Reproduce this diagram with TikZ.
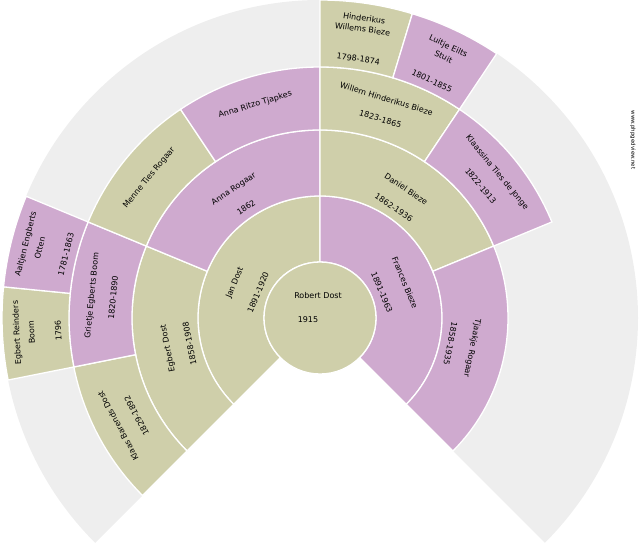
\documentclass[tikz,border=0pt]{standalone}
\usepackage{fontspec}
\setmainfont{DejaVu Sans}
\definecolor{olive}{RGB}{207,207,170}
\definecolor{mauve}{RGB}{207,170,207}
\definecolor{bg}{RGB}{238,238,238}
\newcommand\fancell[5]{\fill[#5,draw=white,line width=1.3pt] (#1:#3) arc[start angle=#1,end angle=#2,radius=#3] -- (#2:#4) arc[start angle=#2,end angle=#1,radius=#4] -- cycle;}
\tikzset{lbl/.style={font=\fontsize{8}{9}\selectfont,inner sep=0pt,text=black}}
\begin{document}
\begin{tikzpicture}[x=1pt,y=1pt]
\useasboundingbox (0,0) rectangle (640,550);
\begin{scope}[shift={(320,232)}]
\fill[bg] (0,0) -- (-45:318) arc[start angle=-45,end angle=225,radius=318] -- cycle;
% gen1
\fancell{90}{225}{56}{122}{olive}
\fancell{-45}{90}{56}{122}{mauve}
% gen2
\fancell{157.5}{225}{122}{188}{olive}
\fancell{90}{157.5}{122}{188}{mauve}
\fancell{22.5}{90}{122}{188}{olive}
\fancell{-45}{22.5}{122}{188}{mauve}
% gen3
\fancell{191.25}{225}{188}{251}{olive}
\fancell{157.5}{191.25}{188}{251}{mauve}
\fancell{123.75}{157.5}{188}{251}{olive}
\fancell{90}{123.75}{188}{251}{mauve}
\fancell{56.25}{90}{188}{251}{olive}
\fancell{22.5}{56.25}{188}{251}{mauve}
% gen4
\fancell{174.375}{191.25}{251}{318}{olive}
\fancell{157.5}{174.375}{251}{318}{mauve}
\fancell{73.125}{90}{251}{318}{olive}
\fancell{56.25}{73.125}{251}{318}{mauve}
% center
\fill[olive,draw=white,line width=1.3pt] (0,0) circle (56);
\node[lbl] (c1) at (-2,22) {Robert Dost};
\node[lbl] (c2) at (-12,-2) {1915};
% gen1 text
\node[lbl,rotate=67.5] (a1) at (157.5:92) {Jan Dost};
\node[lbl,rotate=67.5] (a2) at (157.5:67) {1891-1920};
\node[lbl,rotate=-67.5] (b1) at (22.5:92) {Frances Bieze};
\node[lbl,rotate=-67.5] (b2) at (22.5:67) {1891-1963};
% gen2
\node[lbl,rotate=101.25] (d1) at (191.25:155) {Egbert Dost};
\node[lbl,rotate=101.25] (d2) at (191.25:133) {1858-1908};
\node[lbl,rotate=33.75] (e1) at (123.75:155) {Anna Rogaar};
\node[lbl,rotate=33.75] (e2) at (123.75:133) {1862};
\node[lbl,rotate=-33.75] (f1) at (56.25:155) {Daniel Bieze};
\node[lbl,rotate=-33.75] (f2) at (56.25:133) {1862-1936};
\node[lbl,rotate=-101.25] (g1) at (-11.25:155) {Tjaakje Rogaar};
\node[lbl,rotate=-101.25] (g2) at (-11.25:133) {1858-1935};
% gen3
\node[lbl,rotate=118.125] (h1) at (208.125:229) {Klaas Barends Dost};
\node[lbl,rotate=118.125] (h2) at (208.125:208) {1829-1892};
\node[lbl,rotate=84.375] (i1) at (174.375:229) {Grietje Egberts Boom};
\node[lbl,rotate=84.375] (i2) at (174.375:208) {1820-1890};
\node[lbl,rotate=50.625] (j1) at (140.625:221) {Menne Ties Rogaar};
\node[lbl,rotate=16.875] (k1) at (106.875:223) {Anna Ritzo Tjapkes};
\node[lbl,rotate=-16.875] (l1) at (73.125:229) {Willem Hinderikus Bieze};
\node[lbl,rotate=-16.875] (l2) at (73.125:208) {1823-1865};
\node[lbl,rotate=-50.625] (m1) at (39.375:229) {Klaassina Ties de Jonge};
\node[lbl,rotate=-50.625] (m2) at (39.375:208) {1822-1913};
% gen4
\node[lbl,rotate=92.8] (n1) at (182.8:303) {Egbert Reinders};
\node[lbl,rotate=92.8] (n2) at (182.8:289) {Boom};
\node[lbl,rotate=92.8] (n3) at (182.8:262) {1796};
\node[lbl,rotate=75.9] (o1) at (165.9:303) {Aaltjen Engberts};
\node[lbl,rotate=75.9] (o2) at (165.9:289) {Otten};
\node[lbl,rotate=75.9] (o3) at (165.9:262) {1781-1863};
\node[lbl,rotate=-8.4] (p1) at (81.6:303) {Hinderikus};
\node[lbl,rotate=-8.4] (p2) at (81.6:292) {Willems Bieze};
\node[lbl,rotate=-8.4] (p3) at (81.6:262) {1798-1874};
\node[lbl,rotate=-25.3] (q1) at (64.7:300) {Luitje Eilts};
\node[lbl,rotate=-25.3] (q2) at (64.7:289) {Stuit};
\node[lbl,rotate=-25.3] (q3) at (64.7:262) {1801-1855};
\end{scope}
\node[font=\fontsize{5.5}{6}\selectfont,rotate=-90,inner sep=0pt] (w) at (633,410) {www.phpgedview.net};
\end{tikzpicture}
\end{document}
